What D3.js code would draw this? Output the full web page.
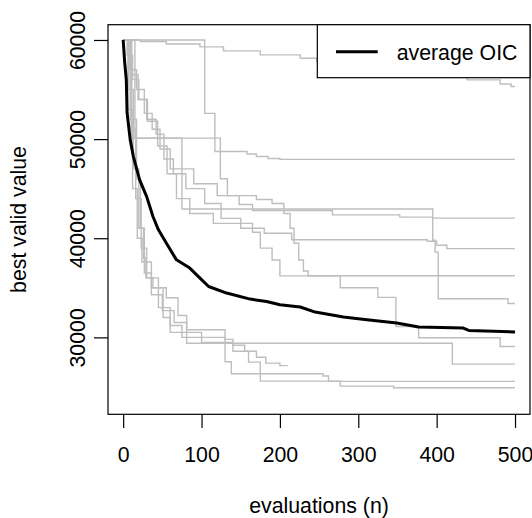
<!DOCTYPE html>
<html>
<head>
<meta charset="utf-8">
<script src="https://cdn.jsdelivr.net/npm/d3@7"></script>
<style>
  body { margin: 0; background: #fff; }
  text { font-family: "Liberation Sans", Arial, sans-serif; }
</style>
</head>
<body>
<div id="chart"></div>
<script>
// tick labels
let xTicks = [0, 100, 200, 300, 400, 500];
let yTicks = [30000, 40000, 50000, 60000];

// single optimisation runs: [evaluation, best valid value]
let run1 = [[0,60000],[22,59850],[55,59600],[98,59300],[128,58900],[175,58500],[226,58150],[247,57800],[280,57400],[311,57000],[350,56700],[395,56350],[439,55970],[481,55560],[495,55300],[500,55300]];
let run2 = [[0,60000],[104,52600],[117,48750],[158,48500],[170,48250],[185,48050],[200,47950],[500,47950]];
let run3 = [[0,60000],[11,50100],[75,42950],[395,39800],[398,38600],[402,33900],[491,33420],[500,33420]];
let run4 = [[0,60000],[15,50100],[124,46000],[133,44300],[148,43400],[165,42800],[267,42360],[353,42130],[395,42030],[500,42030]];
let run5 = [[0,60000],[5,58500],[12,56000],[20,54000],[30,52000],[42,50500],[52,48000],[64,46500],[80,45000],[104,43500],[125,42000],[150,41000],[180,40500],[215,39850],[388,39700],[400,39300],[413,38950],[500,38950]];
let run6 = [[0,60000],[8,57000],[17,55000],[27,52600],[37,51000],[47,49000],[60,47000],[90,45500],[120,44300],[170,43900],[190,43500],[205,42500],[213,41000],[218,39500],[224,37800],[230,36700],[236,36210],[500,36210]];
let run7 = [[0,60000],[10,56500],[19,54000],[31,51800],[44,49300],[56,46500],[68,44000],[85,42500],[115,41500],[165,40600],[175,39000],[190,37800],[200,36200],[277,35000],[325,34030],[348,31100],[377,29960],[481,29080],[500,29080]];
let run8 = [[0,60000],[9,52000],[17,46000],[22,41000],[26,38000],[29,36000],[38,35000],[55,34000],[70,32200],[81,29400],[420,27300],[500,27300]];
let run9 = [[0,60000],[7,55000],[13,47000],[20,41000],[27,36500],[36,34300],[50,32700],[65,31500],[81,30770],[130,27540],[138,26330],[255,26100],[262,25560],[500,25560]];
let run10 = [[0,60000],[6,53000],[12,45000],[18,40000],[24,37600],[36,35000],[51,32000],[60,30500],[100,29500],[140,28600],[160,27500],[175,25590],[277,25080],[345,24920],[500,24920]];
let run11 = [[0,60000],[10,51000],[16,44000],[23,39000],[30,36000],[45,33000],[60,31200],[75,30000],[130,29800],[140,29200],[155,28600],[170,28000],[182,27400],[200,27150],[210,27150]];

let runs = [run1, run2, run3, run4, run5, run6, run7, run8, run9, run10, run11];

// average over the runs
let avgOIC = [[0,60000],[2,57680],[4,55970],[5,52640],[9,49920],[13,48240],[21,45890],[30,44200],[38,42190],[45,40850],[55,39510],[68,37820],[85,36990],[98,35980],[109,35130],[132,34470],[162,33860],[183,33620],[200,33290],[226,33060],[245,32550],[281,32050],[311,31780],[349,31440],[377,31040],[434,30940],[441,30700],[500,30540]];

let svg = d3.select("#chart").append("svg")
    .attr("width", 532)
    .attr("height", 518);

let x = d3.scaleLinear().domain([-20, 520]).range([107.5, 530.7]);
let y = d3.scaleLinear().domain([22240, 61540]).range([414.3, 24.7]);

let stepLine = d3.line()
    .x(function(d){ return x(d[0]); })
    .y(function(d){ return y(d[1]); })
    .curve(d3.curveStepAfter);

let avgLine = d3.line()
    .x(function(d){ return x(d[0]); })
    .y(function(d){ return y(d[1]); });

svg.selectAll("path.run")
    .data(runs)
    .enter()
    .append("path")
    .attr("class", "run")
    .attr("d", stepLine)
    .attr("fill", "none")
    .attr("stroke", "#bebebe")
    .attr("stroke-width", 1.4);

svg.append("path")
    .attr("d", avgLine(avgOIC))
    .attr("fill", "none")
    .attr("stroke", "#000")
    .attr("stroke-width", 3)
    .attr("stroke-linejoin", "round");

// axes
let xAxis = svg.append("g")
    .attr("transform", "translate(0,414)")
    .call(d3.axisBottom(x).tickValues(xTicks).tickSizeOuter(0).tickSize(14).tickPadding(19));

let yAxis = svg.append("g")
    .attr("transform", "translate(108,0)")
    .call(d3.axisLeft(y).tickValues(yTicks).tickFormat(d3.format("d")).tickSizeOuter(0).tickSize(14));

[xAxis, yAxis].forEach(function(a){
  a.select(".domain").remove();
  a.selectAll("line").attr("stroke", "#000").attr("stroke-width", 1.2);
  a.selectAll("text")
    .attr("font-family", "Liberation Sans, Arial, sans-serif")
    .attr("font-size", 21.3)
    .attr("fill", "#000");
});

yAxis.selectAll("text")
    .attr("x", null)
    .attr("dy", null)
    .attr("text-anchor", "middle")
    .attr("transform", "translate(-23,0) rotate(-90)");

// plot box
svg.append("rect")
    .attr("x", 108)
    .attr("y", 24.7)
    .attr("width", 422)
    .attr("height", 389.6)
    .attr("fill", "none")
    .attr("stroke", "#000")
    .attr("stroke-width", 1.2);

// axis titles
svg.append("text")
    .attr("x", 319)
    .attr("y", 513)
    .attr("text-anchor", "middle")
    .attr("font-size", 21.3)
    .text("evaluations (n)");

svg.append("text")
    .attr("transform", "translate(26,219.5) rotate(-90)")
    .attr("text-anchor", "middle")
    .attr("font-size", 21.3)
    .text("best valid value");

// legend
let legend = svg.append("g");
legend.append("rect")
    .attr("x", 317.3)
    .attr("y", 24.7)
    .attr("width", 212.7)
    .attr("height", 53)
    .attr("fill", "#fff")
    .attr("stroke", "#000")
    .attr("stroke-width", 1.2);
legend.append("line")
    .attr("x1", 336).attr("x2", 377.7)
    .attr("y1", 51.7).attr("y2", 51.7)
    .attr("stroke", "#000")
    .attr("stroke-width", 3);
legend.append("text")
    .attr("x", 396.7)
    .attr("y", 59.5)
    .attr("font-size", 21.3)
    .text("average OIC");
</script>
</body>
</html>
